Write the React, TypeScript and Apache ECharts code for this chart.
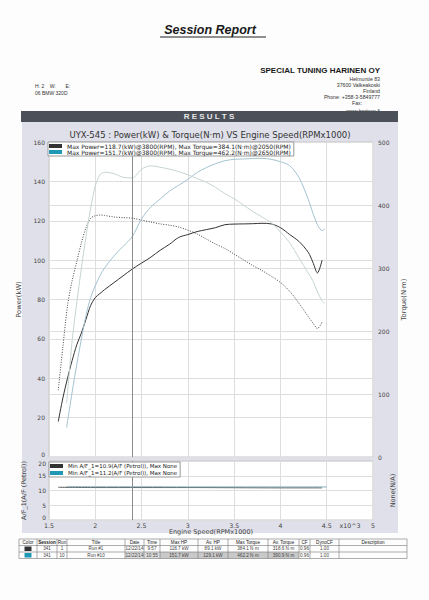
import React, { useEffect, useRef } from "react";
import * as echarts from "echarts";

// ---------- DATA ----------
const run1Rpm = [1.6, 1.65, 1.7, 1.75, 1.8, 1.85, 1.9, 1.95, 2.0, 2.05, 2.1, 2.2, 2.3, 2.4, 2.5, 2.6, 2.7, 2.8, 2.9, 3.0, 3.1, 3.2, 3.3, 3.4, 3.5, 3.6, 3.7, 3.8, 3.9, 4.0, 4.1, 4.2, 4.3, 4.35, 4.4, 4.45];
const run1Power = [18, 30, 40, 49, 57, 63, 70, 77, 81, 83, 85, 88.5, 92, 95.5, 98.5, 101.5, 105, 108, 111.5, 113, 114.5, 115.5, 116.5, 118, 118.3, 118.4, 118.5, 118.7, 118.4, 116.5, 113, 109.5, 104, 99, 93.5, 100];
const run1Torque = [106, 175, 240, 280, 310, 340, 364, 379, 383, 384.1, 383.5, 381, 380, 379, 376, 373, 370, 368, 365, 360, 354, 346, 338, 331, 322, 313, 304, 296, 287, 277, 263, 244, 223, 213, 204, 214];

const run10Rpm = [1.69, 1.72, 1.75, 1.8, 1.85, 1.9, 1.95, 2.0, 2.05, 2.1, 2.2, 2.3, 2.4, 2.5, 2.6, 2.7, 2.8, 2.9, 3.0, 3.1, 3.2, 3.3, 3.4, 3.5, 3.6, 3.7, 3.8, 3.9, 4.0, 4.1, 4.2, 4.3, 4.35, 4.4, 4.45, 4.48];
const run10Power = [15, 24, 33, 47, 60, 72, 81, 87, 92, 96, 102, 107, 112, 121, 127, 131, 135, 138, 141, 144.5, 147, 149, 150.5, 151.2, 151.4, 151.6, 151.7, 151.2, 150, 148, 142, 131, 124, 118, 115, 116];
const run10Torque = [85, 135, 185, 245, 300, 350, 395, 430, 448, 452, 450, 444, 443, 457, 462.2, 460, 457, 453, 448, 442, 436, 428, 418, 410, 400, 390, 381, 372, 357, 340, 316, 292, 280, 262, 248, 244];

const afRpm1 = [1.6, 2.0, 2.5, 3.0, 3.5, 4.0, 4.45];
const af1 = [11.1, 11.0, 11.0, 11.0, 10.95, 10.9, 10.9];
const afRpm10 = [1.69, 2.0, 2.5, 3.0, 3.5, 4.0, 4.5];
const af10 = [11.3, 11.25, 11.25, 11.2, 11.2, 11.2, 11.2];

const cursorRpm = 2.4;

const legendMain = [
  "Max Power=118.7(kW)@3800(RPM), Max Torque=384.1(N·m)@2050(RPM)",
  "Max Power=151.7(kW)@3800(RPM), Max Torque=462.2(N·m)@2650(RPM)",
];
const legendAF = [
  "Min A/F_1=10.9(A/F (Petrol)), Max None",
  "Min A/F_1=11.2(A/F (Petrol)), Max None",
];

const tableHeader = ["Color", "Session", "Run", "Title", "Date", "Time", "Max HP", "Av. HP", "Max Torque", "Av. Torque", "CF", "DynoCF", "Description"];
const sessions = ["341", "341"];
const runs = ["1", "10"];
const titles = ["Run #1", "Run #10"];
const dates = ["12/22/14", "12/22/14"];
const times = ["9:57", "10:55"];
const maxHp = ["118.7 kW", "151.7 kW"];
const avHp = ["89.1 kW", "129.1 kW"];
const maxTq = ["384.1 N·m", "462.2 N·m"];
const avTq = ["318.6 N·m", "390.9 N·m"];
const cfs = ["0.96", "0.96"];
const dynoCfs = ["1.00", "1.00"];
const descs = ["", ""];
const runColors = ["#333333", "#1f98b6"];

const companyLines = ["Helmuntie 83", "37600 Valkeakoski", "Finland", "Phone: +358-3-5849777"];

// ---------- LAYOUT ----------
const FONT = "DejaVu Sans";
const ARIAL = "Liberation Sans";
const tableCols = [19, 37, 57, 67, 125, 144, 160, 198, 228, 268, 299, 310, 339, 407];
const tableRows = [539, 545.5, 552, 558.5];

function zip(xs: number[], ys: number[]) {
  return xs.map((x, i) => [x, ys[i]]);
}

function txt(text: string, x: number, y: number, o: any = {}) {
  return {
    type: "text",
    x,
    y,
    silent: true,
    z: o.z ?? 5,
    style: {
      text,
      fill: o.fill ?? "#333",
      fontSize: o.fontSize ?? 5,
      fontFamily: o.fontFamily ?? ARIAL,
      fontWeight: o.fontWeight ?? "normal",
      fontStyle: o.fontStyle ?? "normal",
      align: o.align ?? "left",
      textAlign: o.align ?? "left",
      verticalAlign: "middle",
      textVerticalAlign: "middle",
    },
  };
}

function buildGraphics() {
  const els: any[] = [];
  els.push({ type: "rect", silent: true, z: -10, shape: { x: 22, y: 122, width: 376, height: 411 }, style: { fill: "#dfe0e9" } });
  els.push(txt("Session Report", 210, 30, { fontSize: 12.5, fontWeight: "bold", fontStyle: "italic", align: "center", fill: "#1a1a1a" }));
  els.push({ type: "line", silent: true, shape: { x1: 160, y1: 37, x2: 266, y2: 37 }, style: { stroke: "#222", lineWidth: 1 } });
  els.push(txt("SPECIAL TUNING HARINEN OY", 380, 70, { fontSize: 8, fontWeight: "bold", align: "right", fill: "#1a1a1a" }));
  companyLines.forEach((l, i) => els.push(txt(l, 380, 79 + i * 6, { fontSize: 5.2, align: "right", fill: "#333" })));
  els.push(txt("Fax:", 352, 103, { fontSize: 5.2, fill: "#333" }));
  els.push(txt("www.harinen.fi", 380, 111, { fontSize: 5.2, align: "right", fill: "#333", z: 1 }));
  els.push(txt("H: 2    W:       E:", 35, 86, { fontSize: 5, fill: "#333" }));
  els.push(txt("06 BMW 320D", 35, 93, { fontSize: 5, fill: "#333" }));
  els.push({ type: "rect", silent: true, z: 3, shape: { x: 21, y: 111, width: 377, height: 11 }, style: { fill: "#4b5059" } });
  els.push(txt("R E S U L T S", 209, 116.8, { fontSize: 8, fontWeight: "bold", align: "center", fill: "#e8e8e8" }));
  els.push(txt("UYX-545 : Power(kW) & Torque(N·m) VS Engine Speed(RPMx1000)", 210, 134.5, { fontSize: 8.5, fontFamily: FONT, align: "center", fill: "#333" }));
  els.push(txt("x10^3", 350, 525, { fontSize: 6.3, fontFamily: FONT, align: "center", fill: "#444" }));

  const rowsData = [sessions, runs, titles, dates, times, maxHp, avHp, maxTq, avTq, cfs, dynoCfs, descs];
  for (let r = 0; r < 2; r++) {
    const y0 = tableRows[r + 1];
    const y1 = tableRows[r + 2];
    if (r === 1) {
      for (let c = 4; c <= 9; c++) {
        els.push({ type: "rect", silent: true, shape: { x: tableCols[c], y: y0, width: tableCols[c + 1] - tableCols[c], height: y1 - y0 }, style: { fill: c >= 6 ? "#c9c9c9" : "#dedede" } });
      }
    }
    const cx = (tableCols[0] + tableCols[1]) / 2;
    els.push({ type: "rect", silent: true, z: 4, shape: { x: cx - 3.5, y: y0 + 1, width: 7, height: y1 - y0 - 2 }, style: { fill: runColors[r] } });
    rowsData.forEach((col, i) => {
      const c = i + 1;
      els.push(txt(col[r], (tableCols[c] + tableCols[c + 1]) / 2, (y0 + y1) / 2, { fontSize: 4.6, align: "center", fill: "#444" }));
    });
  }
  tableHeader.forEach((h, c) => {
    els.push(txt(h, (tableCols[c] + tableCols[c + 1]) / 2, (tableRows[0] + tableRows[1]) / 2, { fontSize: 4.6, align: "center", fill: "#222", fontWeight: c === 1 ? "bold" : "normal" }));
  });
  tableCols.forEach((x) => {
    els.push({ type: "line", silent: true, z: 4, shape: { x1: x, y1: tableRows[0], x2: x, y2: tableRows[3] }, style: { stroke: "#777", lineWidth: 0.6 } });
  });
  tableRows.forEach((y) => {
    els.push({ type: "line", silent: true, z: 4, shape: { x1: tableCols[0], y1: y, x2: tableCols[tableCols.length - 1], y2: y }, style: { stroke: "#777", lineWidth: 0.6 } });
  });
  return els;
}

const cursorMark = {
  symbol: "none",
  silent: true,
  label: { show: false },
  lineStyle: { color: "#8c8c8c", width: 1, type: "solid" },
  data: [{ xAxis: cursorRpm }],
};

const axisNameStyle = { fontSize: 6.8, color: "#444", fontFamily: FONT };
const labelStyle = { fontSize: 6, color: "#444", fontFamily: FONT };
const gridLine = { show: true, lineStyle: { color: "#dedede", width: 1 } };
const shiftRich = {
  up: { fontSize: 6, color: "#444", fontFamily: FONT, padding: [0, 0, 5, 0] },
  down: { fontSize: 6, color: "#444", fontFamily: FONT, padding: [5, 0, 0, 0] },
};

function buildOption(): any {
  return {
    animation: false,
    backgroundColor: "#fdfdfd",
    graphic: { elements: buildGraphics() },
    grid: [
      { left: 49, top: 142, width: 324, height: 315, show: true, backgroundColor: "#ffffff", borderColor: "#c6c6c6", borderWidth: 1 },
      { left: 49, top: 461, width: 324, height: 59, show: true, backgroundColor: "#ffffff", borderColor: "#c6c6c6", borderWidth: 1 },
    ],
    xAxis: [
      { gridIndex: 0, type: "value", min: 1.5, max: 5, interval: 0.5, axisLine: { show: false }, axisTick: { show: false }, axisLabel: { show: false }, splitLine: gridLine },
      {
        gridIndex: 1, type: "value", min: 1.5, max: 5, interval: 0.5,
        axisLine: { show: false }, axisTick: { show: false },
        axisLabel: { ...labelStyle, fontSize: 6.3, margin: 2 },
        splitLine: gridLine,
        name: "Engine Speed(RPMx1000)", nameLocation: "middle", nameGap: 6, nameTextStyle: { ...axisNameStyle, fontSize: 6.5 },
      },
    ],
    yAxis: [
      {
        gridIndex: 0, type: "value", min: 0, max: 160, interval: 20, position: "left",
        axisLine: { show: false }, axisTick: { show: false },
        axisLabel: { ...labelStyle, margin: 4, formatter: (v: number) => (v === 0 ? "{up|0}" : String(v)), rich: shiftRich },
        splitLine: gridLine,
        name: "Power(kW)", nameLocation: "middle", nameGap: 18, nameRotate: 90, nameTextStyle: axisNameStyle,
      },
      {
        gridIndex: 0, type: "value", min: 0, max: 500, interval: 100, position: "right",
        axisLine: { show: false }, axisTick: { show: false },
        axisLabel: { ...labelStyle, margin: 5 }, splitLine: gridLine,
        name: "Torque(N·m)", nameLocation: "middle", nameGap: 17, nameRotate: 90, nameTextStyle: axisNameStyle,
      },
      {
        gridIndex: 1, type: "value", min: 0, max: 20, interval: 5, position: "left",
        axisLine: { show: false }, axisTick: { show: false },
        axisLabel: {
          ...labelStyle, margin: 3,
          formatter: (v: number) => (v === 20 ? "{down|20}" : v === 0 ? "{up|0}" : String(v)),
          rich: shiftRich,
        },
        splitLine: gridLine,
        name: "A/F_1(A/F (Petrol))", nameLocation: "middle", nameGap: 15, nameRotate: 90, nameTextStyle: { ...axisNameStyle, fontSize: 6.5 },
      },
      {
        gridIndex: 1, type: "value", min: 0, max: 1, position: "right",
        axisLine: { show: false }, axisTick: { show: false },
        axisLabel: { show: false }, splitLine: { show: false },
        name: "None(N/A)", nameLocation: "middle", nameGap: 16, nameRotate: 90, nameTextStyle: { ...axisNameStyle, fontSize: 6.5 },
      },
    ],
    legend: [
      {
        z: 20,
        data: [
          { name: legendMain[0], itemStyle: { color: runColors[0] } },
          { name: legendMain[1], itemStyle: { color: runColors[1] } },
        ],
        left: 48, top: 142, orient: "vertical", icon: "rect", itemWidth: 13, itemHeight: 4, itemGap: 0,
        padding: [1, 3, 1, 1], backgroundColor: "#fff", borderColor: "#999", borderWidth: 1,
        textStyle: { fontSize: 6, color: "#222", fontFamily: FONT }, selectedMode: false,
      },
      {
        z: 20,
        data: [
          { name: legendAF[0], itemStyle: { color: runColors[0] } },
          { name: legendAF[1], itemStyle: { color: runColors[1] } },
        ],
        left: 49, top: 462, orient: "vertical", icon: "rect", itemWidth: 13, itemHeight: 4, itemGap: 1,
        padding: [1, 3, 1, 1], backgroundColor: "#fff", borderColor: "#999", borderWidth: 1,
        textStyle: { fontSize: 5.5, color: "#222", fontFamily: FONT }, selectedMode: false,
      },
    ],
    series: [
      {
        name: legendMain[0], type: "line", xAxisIndex: 0, yAxisIndex: 0, data: zip(run1Rpm, run1Power),
        showSymbol: false, smooth: 0.3, lineStyle: { color: "#333", width: 1 }, itemStyle: { color: "#333" },
        markLine: cursorMark,
      },
      {
        name: legendMain[0], type: "line", xAxisIndex: 0, yAxisIndex: 1, data: zip(run1Rpm, run1Torque),
        showSymbol: false, smooth: 0.3, lineStyle: { color: "#444", width: 1, type: [1, 1.5] }, itemStyle: { color: "#333" },
      },
      {
        name: legendMain[1], type: "line", xAxisIndex: 0, yAxisIndex: 0, data: zip(run10Rpm, run10Power),
        showSymbol: false, smooth: 0.3, lineStyle: { color: "#a3c3cf", width: 1 }, itemStyle: { color: runColors[1] },
      },
      {
        name: legendMain[1], type: "line", xAxisIndex: 0, yAxisIndex: 1, data: zip(run10Rpm, run10Torque),
        showSymbol: false, smooth: 0.3, lineStyle: { color: "#c6d4d3", width: 1 }, itemStyle: { color: runColors[1] },
      },
      {
        name: legendAF[0], type: "line", xAxisIndex: 1, yAxisIndex: 2, data: zip(afRpm1, af1),
        showSymbol: false, smooth: 0.3, lineStyle: { color: "#555", width: 1 }, itemStyle: { color: "#333" },
        markLine: cursorMark,
      },
      {
        name: legendAF[1], type: "line", xAxisIndex: 1, yAxisIndex: 2, data: zip(afRpm10, af10),
        showSymbol: false, smooth: 0.3, lineStyle: { color: "#7fa9b8", width: 1 }, itemStyle: { color: runColors[1] },
      },
    ],
  };
}

export default function App() {
  const ref = useRef<HTMLDivElement>(null);
  useEffect(() => {
    if (!ref.current) return;
    const chart = echarts.init(ref.current, null, { renderer: "svg" });
    chart.setOption(buildOption());
    return () => chart.dispose();
  }, []);
  return <div ref={ref} style={{ position: "absolute", left: 0, top: 0, width: 429, height: 600 }} />;
}
